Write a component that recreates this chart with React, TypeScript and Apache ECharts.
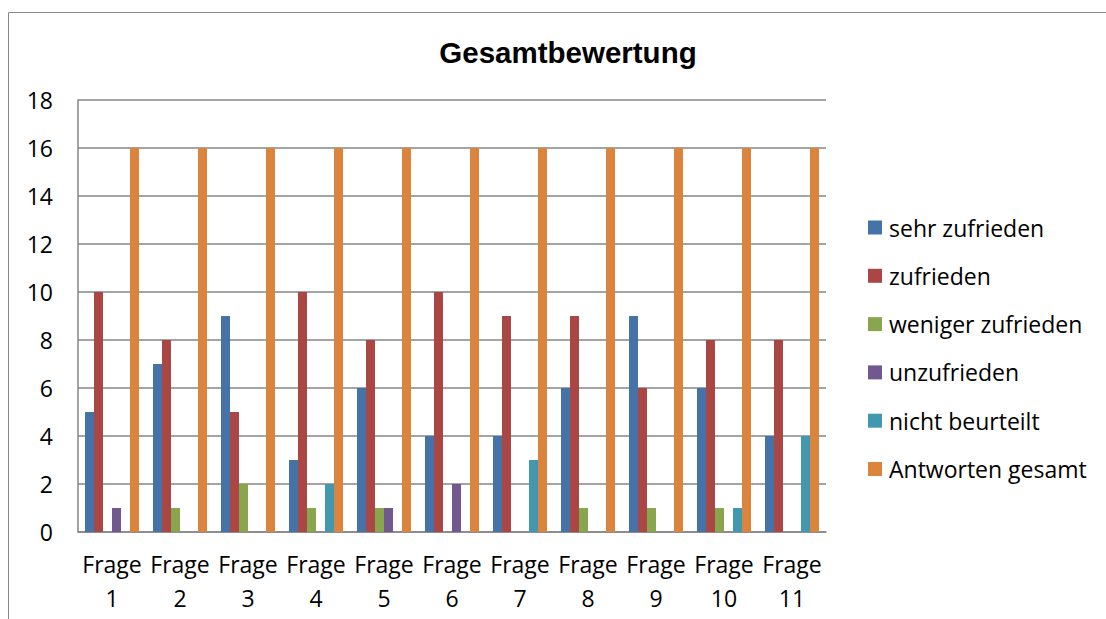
import React, { useEffect, useRef } from "react";
import * as echarts from "echarts";

const categories = ["Frage\n1", "Frage\n2", "Frage\n3", "Frage\n4", "Frage\n5", "Frage\n6", "Frage\n7", "Frage\n8", "Frage\n9", "Frage\n10", "Frage\n11"];
const sehrZufrieden = [5, 7, 9, 3, 6, 4, 4, 6, 9, 6, 4];
const zufrieden = [10, 8, 5, 10, 8, 10, 9, 9, 6, 8, 8];
const wenigerZufrieden = [0, 1, 2, 1, 1, 0, 0, 1, 1, 1, 0];
const unzufrieden = [1, 0, 0, 0, 1, 2, 0, 0, 0, 0, 0];
const nichtBeurteilt = [0, 0, 0, 2, 0, 0, 3, 0, 0, 1, 4];
const antwortenGesamt = [16, 16, 16, 16, 16, 16, 16, 16, 16, 16, 16];
const yTicks = [0, 2, 4, 6, 8, 10, 12, 14, 16, 18];

const seriesDefs = [
  { name: "sehr zufrieden", data: sehrZufrieden, color: "#4572A7" },
  { name: "zufrieden", data: zufrieden, color: "#AA4643" },
  { name: "weniger zufrieden", data: wenigerZufrieden, color: "#89A54E" },
  { name: "unzufrieden", data: unzufrieden, color: "#71588F" },
  { name: "nicht beurteilt", data: nichtBeurteilt, color: "#4198AF" },
  { name: "Antworten gesamt", data: antwortenGesamt, color: "#DB843D" },
];

const FONT = "'Open Sans', 'Noto Sans', sans-serif";
const FS = 23;

export default function App() {
  const ref = useRef<HTMLDivElement>(null);
  useEffect(() => {
    if (!ref.current) return;
    const chart = echarts.init(ref.current, null, { renderer: "svg" });
    chart.setOption({
      animation: false,
      backgroundColor: "#ffffff",
      title: {
        text: "Gesamtbewertung",
        left: 563,
        textAlign: "center",
        top: 32,
        textStyle: { fontFamily: "'Liberation Sans', Arial, sans-serif", fontSize: 29.5, fontWeight: "bold", color: "#000" },
      },
      graphic: [
        {
          type: "rect",
          shape: { x: 8.5, y: 12.5, width: 1200, height: 700 },
          style: { fill: "none", stroke: "#888888", lineWidth: 1 },
          silent: true,
        },
      ],
      legend: {
        orient: "vertical",
        left: 863,
        top: 211,
        itemWidth: 14,
        itemHeight: 14,
        itemGap: 25.3,
        icon: "rect",
        textStyle: { fontFamily: FONT, fontSize: FS, color: "#000", padding: [0, 0, 0, 2] },
        data: seriesDefs.map((s) => s.name),
      },
      grid: { left: 78, top: 100, width: 748, height: 432, containLabel: false },
      xAxis: {
        type: "category",
        data: categories,
        axisLine: { lineStyle: { color: "#868686", width: 1.5 } },
        axisTick: { show: false },
        axisLabel: { fontFamily: FONT, fontSize: FS, color: "#000", lineHeight: 34, margin: 15, interval: 0 },
      },
      yAxis: {
        type: "value",
        min: 0,
        max: 18,
        interval: 2,
        axisLine: { show: true, lineStyle: { color: "#868686", width: 1.5 } },
        axisTick: { show: false },
        splitLine: { lineStyle: { color: "#868686", width: 1.5 } },
        axisLabel: {
          fontFamily: FONT,
          fontSize: FS,
          color: "#000",
          margin: 25,
          formatter: (v: number) => (yTicks.includes(v) ? String(v) : ""),
        },
      },
      series: seriesDefs.map((s) => ({
        type: "bar",
        name: s.name,
        data: s.data,
        barWidth: 9,
        barGap: "0%",
        barCategoryGap: "20%",
        itemStyle: { color: s.color },
      })),
    });
    return () => chart.dispose();
  }, []);
  return <div ref={ref} style={{ position: "fixed", left: 0, top: 0, width: 1106, height: 619 }} />;
}
